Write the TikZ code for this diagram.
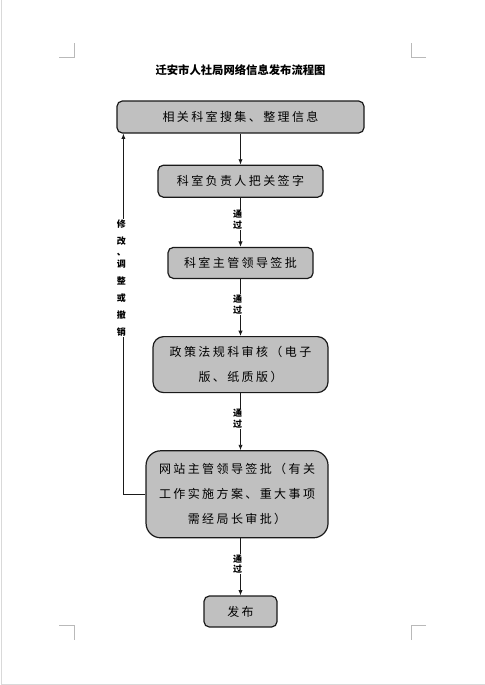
\documentclass[tikz,border=0pt]{standalone}
\usepackage{fontspec}
\usepackage{tikz}
\usetikzlibrary{arrows.meta,positioning}
\setmainfont{Noto Sans CJK SC}
\newfontfamily\cjk[LetterSpace=20]{Noto Sans CJK SC}
\definecolor{ink}{HTML}{1A1A1A}
\definecolor{boxgray}{HTML}{C0C0C0}
\definecolor{pagegray}{HTML}{D9D9D9}

\begin{document}
\begin{tikzpicture}[x=0.75pt,y=-0.75pt,node distance=42.75pt,
  st/.style={draw=ink,line width=0.9pt,rounded corners=4pt,fill=boxgray,font=\cjk\fontsize{9}{18.75}\selectfont,align=center,minimum height=24pt,inner sep=1pt},
  pass/.style={fill=white,inner sep=0.6pt,font=\bfseries\fontsize{6.75}{7.9}\selectfont,align=center,xshift=-2.25pt},
  back/.style={fill=white,inner sep=0.6pt,font=\bfseries\fontsize{6.75}{12.75}\selectfont,align=center,xshift=-1.5pt},
  arr/.style={-{Latex[length=4pt,width=3.2pt]},draw=ink,line width=0.6pt},
  crop/.style={draw=gray!55,line width=0.5pt}]
\useasboundingbox (0,0) rectangle (485,685);
% page edge and corner marks
\draw[pagegray,line width=0.75pt] (1,0) -- (1,684) -- (485,684);
\draw[crop] (59,57) -- (74,57) -- (74,43);
\draw[crop] (426,57) -- (411,57) -- (411,43);
\draw[crop] (59,625) -- (74,625) -- (74,640);
\draw[crop] (426,625) -- (411,625) -- (411,640);
% steps
\node[st,minimum width=185.25pt] (xg) at (240.5,117) {相关科室搜集、整理信息};
\node[font=\bfseries\fontsize{8.5}{10}\selectfont,inner sep=0pt,above=18pt of xg] (bt) {迁安市人社局网络信息发布流程图};
\node[st,minimum width=123.75pt,below=23.25pt of xg] (fz) {科室负责人把关签字};
\node[st,minimum width=108.75pt,minimum height=23.25pt,below=36.75pt of fz] (zg) {科室主管领导签批};
\node[st,minimum width=131.25pt,minimum height=42pt,rounded corners=8pt,below=of zg] (zc) {政策法规科审核（电子\\版、纸质版）};
\node[st,minimum width=136.5pt,minimum height=65.25pt,rounded corners=11pt,below=of zc,xshift=-2.6pt] (wz) {网站主管领导签批（有关\\工作实施方案、重大事项\\需经局长审批）};
\node[st,minimum width=54.75pt,minimum height=23.25pt,below=of wz,xshift=2.6pt] (fb) {发布};
% arrows
\draw[arr] (xg) -- (fz);
\draw[arr] (fz) -- node[pass,pos=0.45]{通\\过} (zg);
\draw[arr] (zg) -- node[pass,pos=0.45]{通\\过} (zc);
\draw[arr] (zc.south) -- node[pass,pos=0.45]{通\\过} (zc.south |- wz.north);
\draw[arr] (wz.south -| fb) -- node[pass,pos=0.45]{通\\过} (fb);
\draw[arr] (wz.west) -| ([xshift=5.25pt]xg.south west) node[back,pos=0.8]{修\\改\\[-4pt]、\\[-4pt]调\\整\\或\\撤\\销};
\end{tikzpicture}
\end{document}
